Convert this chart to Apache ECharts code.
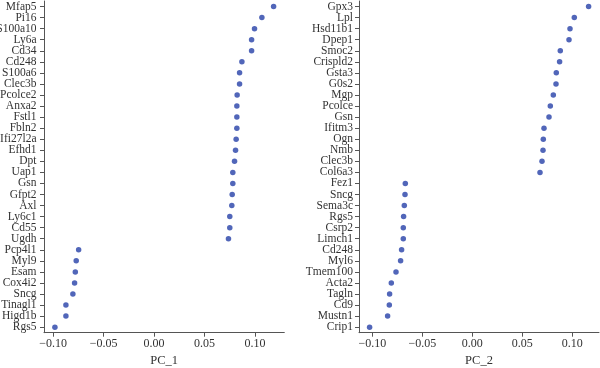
<!DOCTYPE html>
<html>
<head>
<meta charset="utf-8">
<script src="https://cdn.jsdelivr.net/npm/echarts@6/dist/echarts.min.js"></script>
<style>html,body{margin:0;padding:0;background:#fff;}#c{width:600px;height:368px;}</style>
</head>
<body>
<div id="c"></div>
<script>
const genes1 = ["Mfap5","Pi16","S100a10","Ly6a","Cd34","Cd248","S100a6","Clec3b","Pcolce2","Anxa2","Fstl1","Fbln2","Ifi27l2a","Efhd1","Dpt","Uap1","Gsn","Gfpt2","Axl","Ly6c1","Cd55","Ugdh","Pcp4l1","Myl9","Esam","Cox4i2","Sncg","Tinagl1","Higd1b","Rgs5"];
const pc1 = [0.1184,0.1068,0.0995,0.0966,0.0966,0.0870,0.0847,0.0847,0.0823,0.0820,0.0820,0.0820,0.0813,0.0807,0.0797,0.0780,0.0780,0.0774,0.0770,0.0750,0.0750,0.0737,-0.0747,-0.0771,-0.0780,-0.0787,-0.0804,-0.0873,-0.0873,-0.0982];
const genes2 = ["Gpx3","Lpl","Hsd11b1","Dpep1","Smoc2","Crispld2","Gsta3","G0s2","Mgp","Pcolce","Gsn","Ifitm3","Ogn","Nmb","Clec3b","Col6a3","Fez1","Sncg","Sema3c","Rgs5","Csrp2","Limch1","Cd248","Myl6","Tmem100","Acta2","Tagln","Cd9","Mustn1","Crip1"];
const pc2 = [0.1163,0.1020,0.0977,0.0967,0.0880,0.0873,0.0840,0.0837,0.0810,0.0780,0.0767,0.0717,0.0710,0.0707,0.0697,0.0677,-0.0670,-0.0673,-0.0680,-0.0687,-0.0690,-0.0690,-0.0707,-0.0717,-0.0763,-0.0810,-0.0827,-0.0830,-0.0847,-0.1027];
const xTicks = [-0.10,-0.05,0.00,0.05,0.10];
const axisNames = ["PC_1","PC_2"];

const FONT = "Liberation Serif";
const TXT = "#333";
const LINE = "#555";
function fmt(v){ const s = Math.abs(v).toFixed(2); return v < -1e-9 ? "\u2212" + s : s; }
function xAxis(i, min, max){
  return {
    type:'value', gridIndex:i, min:min, max:max,
    name: axisNames[i], nameLocation:'middle', nameGap:22,
    nameTextStyle:{fontFamily:FONT,fontSize:12.5,color:TXT},
    axisLine:{show:true,onZero:false,lineStyle:{color:LINE,width:1}},
    axisTick:{show:true,length:4,customValues:xTicks,lineStyle:{color:LINE}},
    axisLabel:{customValues:xTicks,formatter:fmt,fontFamily:FONT,fontSize:12,color:TXT,margin:5},
    splitLine:{show:false}
  };
}
function yAxis(i, names, margin){
  return {
    type:'category', gridIndex:i, data:names, inverse:true,
    axisLine:{show:true,onZero:false,lineStyle:{color:LINE,width:1}},
    axisTick:{show:true,length:4,alignWithLabel:true,lineStyle:{color:LINE}},
    axisLabel:{fontFamily:FONT,fontSize:11.5,color:TXT,margin:margin,interval:0},
    splitLine:{show:false}
  };
}
const chart = echarts.init(document.getElementById('c'), null, {renderer:'canvas'});
chart.setOption({
  animation:false,
  backgroundColor:'#fff',
  grid:[
    {left:44, right:315.7, top:1, bottom:35.3, containLabel:false, outerBoundsMode:'none'},
    {left:359, right:1, top:1, bottom:35.3, containLabel:false, outerBoundsMode:'none'}
  ],
  xAxis:[xAxis(0,-0.109,0.129), xAxis(1,-0.1133,0.1267)],
  yAxis:[yAxis(0,genes1,7.5), yAxis(1,genes2,6)],
  series:[
    {type:'scatter', xAxisIndex:0, yAxisIndex:0, symbolSize:5.5, itemStyle:{color:'#2540a8'},
     data: pc1.map((v,k)=>[v, genes1[k]])},
    {type:'scatter', xAxisIndex:1, yAxisIndex:1, symbolSize:5.5, itemStyle:{color:'#2540a8'},
     data: pc2.map((v,k)=>[v, genes2[k]])}
  ]
});
</script>
</body>
</html>
